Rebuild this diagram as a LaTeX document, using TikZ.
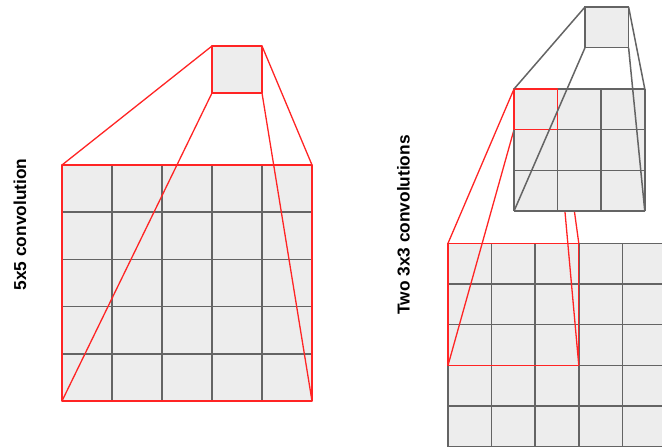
\documentclass[tikz,border=0pt]{standalone}
\usepackage{fontspec}
\setmainfont{Liberation Sans}
\definecolor{cellfill}{HTML}{EDEDED}
\definecolor{gridline}{HTML}{646464}
\definecolor{redline}{HTML}{FF2424}
\begin{document}
\begin{tikzpicture}[x=1pt,y=-1pt,
  gline/.style={draw=gridline, line width=1.5pt},
  rline/.style={draw=redline, line width=1.3pt, line join=round},
  cellbg/.style={fill=cellfill},
  lbl/.style={rotate=90, font=\bfseries\fontsize{17.3}{20}\selectfont, inner sep=0pt}]
\useasboundingbox (0,0) rectangle (662,447);
\begin{scope}
\clip (0,0) rectangle (662,447);

% ---------- left: 5x5 convolution ----------
\coordinate (Ltl) at (62,165);
\coordinate (Ltr) at (312,165);
\coordinate (Lbl) at (62,401);
\coordinate (Lbr) at (312,401);
\fill[cellbg] (Ltl) rectangle (Lbr);
\foreach \i in {1,...,4}{
  \draw[gline] (62+50*\i,165) -- (62+50*\i,401);
  \draw[gline] (62,165+47.2*\i) -- (312,165+47.2*\i);
}
\draw[rline] (Ltl) rectangle (Lbr);
\coordinate (Stl) at (212,46);
\coordinate (Str) at (262,46);
\coordinate (Sbl) at (212,93);
\coordinate (Sbr) at (262,93);
\draw[rline] (Stl) -- (Ltl);
\draw[rline] (Str) -- (Ltr);
\draw[rline] (Sbl) -- (Lbl);
\draw[rline] (Sbr) -- (Lbr);
\filldraw[rline, cellbg] (Stl) rectangle (Sbr);

% ---------- right: two 3x3 convolutions ----------
% bottom 5x5 grid (extends past the edge)
\fill[cellbg] (448,243.3) rectangle (670,450);
\foreach \i in {0,...,5}{
  \draw[gline] (448+43.6*\i,243.3) -- (448+43.6*\i,452);
  \draw[gline] (448,243.3+40.7*\i) -- (670,243.3+40.7*\i);
}
\coordinate (Btl) at (448,243.3);
\coordinate (Btr) at (578.8,243.3);
\coordinate (Bbl) at (448,365.4);
\coordinate (Bbr) at (578.8,365.4);
\draw[rline] (Btl) rectangle (Bbr);
% red cell in the middle grid
\coordinate (Rtl) at (514,89);
\coordinate (Rtr) at (557.6,89);
\coordinate (Rbl) at (514,129.7);
\coordinate (Rbr) at (557.6,129.7);
\draw[rline] (Rtl) -- (Btl);
\draw[rline] (Rbl) -- (Bbl);
\draw[rline] (Rtr) -- (Btr);
\draw[rline] (Rbr) -- (Bbr);
% middle 3x3 grid
\coordinate (Mtl) at (514,89);
\coordinate (Mtr) at (644.8,89);
\coordinate (Mbl) at (514,211.1);
\coordinate (Mbr) at (644.8,211.1);
\fill[cellbg] (Mtl) rectangle (Mbr);
\foreach \i in {0,...,3}{
  \draw[gline] (514+43.6*\i,89) -- (514+43.6*\i,211.1);
  \draw[gline] (514,89+40.7*\i) -- (644.8,89+40.7*\i);
}
\draw[rline] (Rtl) rectangle (Rbr);
% top 1x1
\coordinate (Ttl) at (585,7);
\coordinate (Ttr) at (628.6,7);
\coordinate (Tbl) at (585,47.7);
\coordinate (Tbr) at (628.6,47.7);
\draw[gline] (Ttl) -- (Mtl);
\draw[gline] (Ttr) -- (Mtr);
\draw[gline] (Tbl) -- (Mbl);
\draw[gline] (Tbr) -- (Mbr);
\filldraw[gline, cellbg] (Ttl) rectangle (Tbr);
\end{scope}

% ---------- labels ----------
\node[lbl] (lab5) at (20,224.5) {5x5 convolution};
\node[lbl] (lab3) at (403.5,225) {Two 3x3 convolutions};
\end{tikzpicture}
\end{document}
